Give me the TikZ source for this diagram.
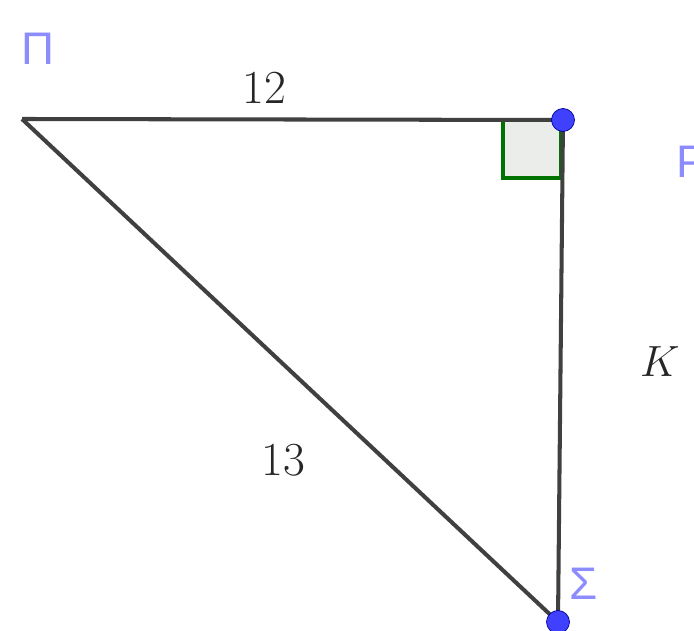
\documentclass[tikz,border=0pt]{standalone}
\usepackage{fontspec}
\newfontfamily\lblfont{Liberation Sans}
\begin{document}
\begin{tikzpicture}[x=0.02cm,y=-0.02cm,
  side/.style={draw=black!75, line width=2.3pt},
  vdot/.style={circle, fill=blue!75!white, draw=blue!60!black, line width=0.4pt, minimum size=0.46cm, inner sep=0pt},
  ptlabel/.style={text=blue!45!white, font=\lblfont\fontsize{26}{26}\selectfont, inner sep=0pt},
  numlabel/.style={text=black!85, font=\fontsize{27}{27}\selectfont, inner sep=0pt}]
\useasboundingbox (0,0) rectangle (694,631);
\coordinate (Pi) at (22,119);
\coordinate (P) at (563,120);
\coordinate (S) at (558,622);
% right angle mark
\filldraw[fill=green!8!gray!15, draw=green!45!black, line width=2pt] (503,120) -- (503,178) -- (561,178) -- (561,120);
\draw[side] (Pi) -- (P);
\draw[side] (Pi) -- (S);
\draw[side] (P) -- (S);
\node[vdot] (dP) at (P) {};
\node[vdot] (dS) at (S) {};
\node[ptlabel] (lPi) at (38,49) {Π};
\node[ptlabel, anchor=west] (lP) at (676,162) {P};
\node[ptlabel] (lS) at (584,584) {Σ};
\node[numlabel] (l12) at (264,88) {12};
\node[numlabel] (l13) at (283,460) {13};
\node[numlabel] (lK) at (660,362) {$K$};
\end{tikzpicture}
\end{document}
